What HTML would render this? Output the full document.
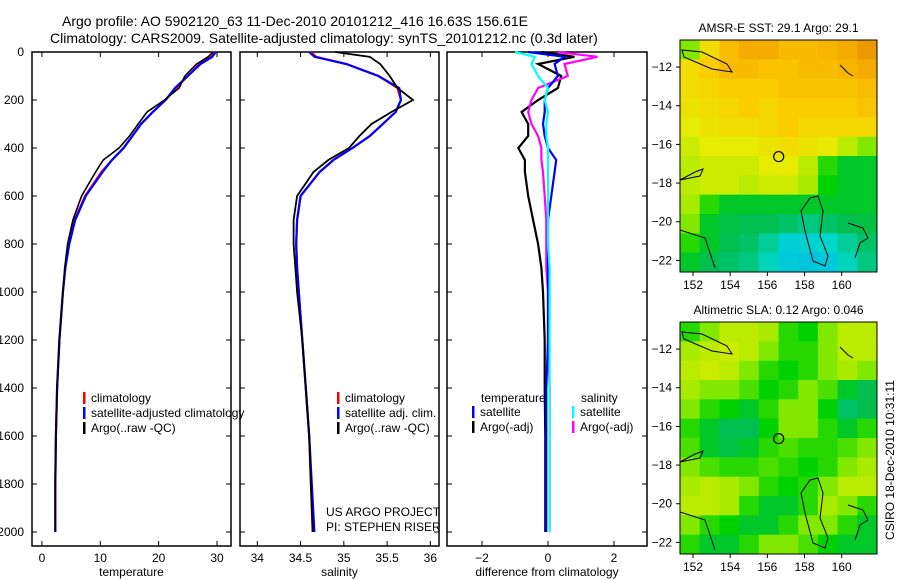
<!DOCTYPE html>
<html><head><meta charset="utf-8"><style>
body{margin:0;background:#fff;}
svg{display:block;font-family:"Liberation Sans",sans-serif;}
text{fill:#000;}
</style></head><body>
<svg id="c" width="900" height="580"></svg>
<script>
// ---- data ----
const depths=[0,20,50,100,150,200,250,300,350,400,450,500,600,700,800,900,1000,1200,1400,1600,1800,2000];
const tempClim=[29.5,29.0,27.0,25.0,23.0,21.2,19.0,17.0,15.5,14.0,12.0,10.2,7.4,5.6,4.6,4.0,3.6,3.0,2.6,2.4,2.3,2.3];
const tempSat=[29.8,29.2,27.2,25.0,22.8,21.2,19.0,17.0,15.5,14.0,12.0,10.4,7.5,5.7,4.7,4.0,3.6,3.0,2.6,2.4,2.3,2.3];
const tempArgo=[29.3,28.5,26.5,24.5,23.5,21.0,18.0,16.5,15.0,13.2,10.5,9.2,6.8,5.3,4.4,3.9,3.6,3.0,2.6,2.4,2.3,2.3];
const salClim=[34.62,34.68,35.03,35.40,35.62,35.66,35.6,35.45,35.3,35.1,34.88,34.72,34.5,34.46,34.45,34.46,34.48,34.52,34.56,34.6,34.62,34.64];
const salSat=[34.6,34.66,35.03,35.40,35.64,35.66,35.6,35.45,35.3,35.1,34.88,34.72,34.5,34.46,34.45,34.46,34.48,34.52,34.56,34.6,34.63,34.66];
const salArgo=[34.9,35.3,35.42,35.53,35.62,35.8,35.55,35.32,35.18,35.06,34.82,34.65,34.46,34.42,34.42,34.44,34.46,34.52,34.56,34.6,34.62,34.64];
const dTempSat=[-0.6,0.5,0.2,0.3,0.0,-0.1,-0.1,-0.15,-0.1,0.0,0.25,0.2,0.1,0.0,0.0,0.0,0.0,0.0,-0.05,-0.05,-0.05,-0.05];
const dTempArgo=[-0.2,0.8,-0.3,0.4,0.3,-0.3,-0.8,-0.6,-0.6,-0.9,-0.7,-0.7,-0.6,-0.45,-0.3,-0.2,-0.15,-0.1,-0.1,-0.08,-0.08,-0.08];
const dSalSat=[-1.0,-0.4,-0.5,-0.3,0.0,-0.1,0.0,-0.05,-0.05,0.0,0.0,0.0,0.0,0.0,0.0,0.05,0.05,0.05,0.05,0.05,0.05,0.05];
const dSalArgo=[0.3,1.5,0.5,0.6,-0.3,-0.5,-0.6,-0.5,-0.3,-0.2,-0.2,-0.15,-0.1,-0.05,-0.05,-0.05,0.0,0.0,0.05,0.05,0.05,0.05];
const depthTicks=[0,200,400,600,800,1000,1200,1400,1600,1800,2000];
const tempTicks=[0,10,20,30];
const salTicks=[34,34.5,35,35.5,36];
const diffTicks=[-2,0,2];
const latTicks=[-12,-14,-16,-18,-20,-22];
const lonTicks=[152,154,156,158,160];
// map grids 10 cols x 12 rows (0..1 colour index)
const sstGrid=[
[.55,.7,.8,.85,.85,.8,.8,.82,.85,.88],
[.7,.75,.8,.8,.78,.78,.8,.8,.82,.85],
[.7,.72,.75,.75,.75,.78,.78,.78,.78,.8],
[.68,.7,.72,.75,.72,.75,.75,.75,.75,.78],
[.65,.68,.7,.7,.72,.75,.72,.72,.72,.72],
[.62,.65,.65,.65,.68,.7,.68,.66,.6,.55],
[.6,.62,.62,.62,.65,.65,.6,.5,.45,.45],
[.6,.62,.62,.6,.62,.62,.58,.48,.45,.45],
[.58,.5,.45,.45,.45,.45,.45,.45,.45,.45],
[.55,.45,.43,.42,.42,.4,.38,.4,.42,.43],
[.5,.45,.42,.4,.36,.3,.3,.32,.36,.4],
[.45,.42,.4,.38,.33,.28,.27,.28,.33,.38]];
const slaGrid=[
[.5,.55,.6,.6,.58,.5,.48,.55,.6,.6],
[.58,.6,.62,.6,.55,.5,.5,.55,.6,.6],
[.6,.62,.6,.55,.5,.48,.5,.55,.58,.55],
[.58,.55,.55,.52,.48,.5,.55,.52,.45,.42],
[.55,.5,.48,.45,.5,.55,.55,.48,.4,.42],
[.5,.45,.42,.42,.48,.55,.55,.5,.45,.5],
[.52,.45,.43,.45,.5,.52,.5,.5,.52,.55],
[.55,.52,.5,.5,.52,.5,.48,.5,.55,.58],
[.58,.6,.58,.55,.5,.48,.5,.55,.6,.6],
[.6,.6,.58,.5,.45,.45,.5,.58,.55,.5],
[.55,.5,.48,.45,.45,.5,.55,.55,.5,.45],
[.5,.45,.45,.5,.55,.55,.52,.48,.45,.45]];

const NS='http://www.w3.org/2000/svg', svg=document.getElementById('c');
function el(tag,attrs,parent){const e=document.createElementNS(NS,tag);for(const k in attrs)e.setAttribute(k,attrs[k]);(parent||svg).appendChild(e);return e;}
function txt(s,x,y,anchor,size,name){const t=el('text',{x:x,y:y,'text-anchor':anchor||'start','font-size':size||12});t.textContent=s;


return t;}

const yTop=52, yPx=0.24;
const yD=d=>yTop+d*yPx;

function panel(x0,x1,xmin,xmax,ticks,label,name,showY){
  const sx=v=>x0+(v-xmin)/(xmax-xmin)*(x1-x0);
  const g=el('g',{});
  
  
  el('rect',{x:x0,y:yTop,width:x1-x0,height:546-yTop,fill:'none',stroke:'#000','stroke-width':1.5},g);
  ticks.forEach(t=>{const x=sx(t);el('line',{x1:x,x2:x,y1:546,y2:541,stroke:'#000'},g);el('line',{x1:x,x2:x,y1:yTop,y2:yTop+5,stroke:'#000'},g);
    txt(String(t).replace('-','−'),x,562,'middle',12,'x-tick-label');});
  depthTicks.forEach(d=>{const y=yD(d);el('line',{x1:x0,x2:x0+5,y1:y,y2:y,stroke:'#000'},g);el('line',{x1:x1,x2:x1-5,y1:y,y2:y,stroke:'#000'},g);
    if(showY)txt(String(d),24,y+4,'end',12,'y-tick-label');});
  txt(label,(x0+x1)/2,576,'middle',12,'x-axis-title');
  return sx;
}
function line(sx,vals,color,name,w){
  const p=el('polyline',{points:vals.map((v,i)=>sx(v).toFixed(1)+','+yD(depths[i]).toFixed(1)).join(' '),fill:'none',stroke:color,'stroke-width':w||2.2});
  
  
}
function legend(x,y,items){items.forEach((it,i)=>{el('rect',{x:x,y:y+i*15-10,width:2.5,height:12,fill:it[1]});txt(it[0],x+8,y+i*15,'start',12,'legend-entry');});}

txt('Argo profile: AO 5902120_63 11-Dec-2010 20101212_416 16.63S 156.61E',62,26,'start',14,'title-line-1');
txt('Climatology: CARS2009. Satellite-adjusted climatology: synTS_20101212.nc (0.3d later)',50,43,'start',14,'title-line-2');

const s1=panel(32,231,-1.7,32.4,tempTicks,'temperature','temperature-panel',true);
line(s1,tempClim,'#f00','temp-climatology');line(s1,tempSat,'#00f','temp-satellite');line(s1,tempArgo,'#000','temp-argo',1.6);
legend(83,402,[['climatology','#f00'],['satellite-adjusted climatology','#00f'],['Argo(..raw -QC)','#000']]);

const s2=panel(240,439,33.8,36.1,salTicks,'salinity','salinity-panel',false);
line(s2,salClim,'#f00','sal-climatology');line(s2,salSat,'#00f','sal-satellite');line(s2,salArgo,'#000','sal-argo',1.8);
legend(337,402,[['climatology','#f00'],['satellite adj. clim.','#00f'],['Argo(..raw -QC)','#000']]);
txt('US ARGO PROJECT',326,516,'start',12,'project-label');txt('PI: STEPHEN RISER',326,531,'start',12,'pi-label');

const s3=panel(447,647,-3.06,3.0,diffTicks,'difference from climatology','difference-panel',false);
line(s3,dTempArgo,'#000','dtemp-argo');line(s3,dSalArgo,'#f0f','dsal-argo');line(s3,dTempSat,'#00f','dtemp-satellite');line(s3,dSalSat,'#0ff','dsal-satellite');
txt('temperature',481,402,'start',12,'legend-heading');txt('salinity',581,402,'start',12,'legend-heading');
legend(472,416,[['satellite','#00f'],['Argo(-adj)','#000']]);
legend(572,416,[['satellite','#0ff'],['Argo(-adj)','#f0f']]);

function cmap(v){const st=[[.25,[0,190,230]],[.32,[0,215,200]],[.42,[0,190,80]],[.48,[0,210,0]],[.56,[150,235,0]],[.65,[230,235,0]],[.75,[250,205,0]],[.85,[245,170,0]],[.95,[215,110,0]]];
 if(v<=st[0][0])return 'rgb('+st[0][1]+')';for(let i=1;i<st.length;i++)if(v<=st[i][0]){const a=st[i-1],b=st[i],f=(v-a[0])/(b[0]-a[0]);return 'rgb('+a[1].map((c,k)=>Math.round(c+(b[1][k]-c)*f))+')';}return 'rgb('+st[st.length-1][1]+')';}
function map(y0,grid,title,name){
  const x0=680,x1=877,y1=y0+232;
  const lonX=l=>x0+(l-151.3)/(161.9-151.3)*(x1-x0);
  const latY=l=>y0+(-10.6-l)/(22.6-10.6)*(y1-y0);
  const g=el('g',{});
  
  
  const cw=(x1-x0)/grid[0].length, ch=(y1-y0)/grid.length;
  grid.forEach((row,r)=>row.forEach((v,c)=>{const rc=el('rect',{x:x0+c*cw,y:y0+r*ch,width:cw+0.5,height:ch+0.5,fill:cmap(v)},g);
    
    }));
  el('rect',{x:x0,y:y0,width:x1-x0,height:y1-y0,fill:'none',stroke:'#000'},g);
  latTicks.forEach(l=>{const y=latY(l);el('line',{x1:x0-4,x2:x0,y1:y,y2:y,stroke:'#000'},g);txt(String(l).replace('-','−'),x0-8,y+4,'end',12,'lat-tick-label');});
  lonTicks.forEach(l=>{const x=lonX(l);el('line',{x1:x,x2:x,y1:y1,y2:y1+4,stroke:'#000'},g);txt(String(l),x,y1+17,'middle',12,'lon-tick-label');});
  // coastlines (approximate)
  el('path',{d:`M${x0+2},${y0+10} l20,2 l25,12 l5,8 l-20,-3 l-28,-12 z M${x0},${y0+140} l15,-8 l8,-3 l-3,7 z M${x0},${y0+190} l25,8 l10,30 M${x0+160},${y0+25} l8,8 l5,3 M${x0+130},${y0+158} l8,-2 l5,15 l-3,25 l8,20 l-3,10 l-12,-5 l-8,-30 l-4,-20 z M${x0+168},${y0+183} l15,5 l5,10 l-8,5 l-5,15`,fill:'none',stroke:'#000','stroke-width':1},g);
  const px=lonX(156.61),py=latY(-16.63);
  const m=el('circle',{cx:px,cy:py,r:5,fill:'none',stroke:'#000','stroke-width':1.2},g);
  
  
  txt(title,(x0+x1)/2,y0-8,'middle',12,'map-title');
}
map(40,sstGrid,'AMSR-E SST: 29.1 Argo: 29.1','sst-map');
map(322,slaGrid,'Altimetric SLA: 0.12 Argo: 0.046','sla-map');
const side=txt('CSIRO 18-Dec-2010 10:31:11',0,0,'middle',12,'footer-credit');
side.setAttribute('transform','translate(894,460) rotate(-90)');
</script>
</body></html>
